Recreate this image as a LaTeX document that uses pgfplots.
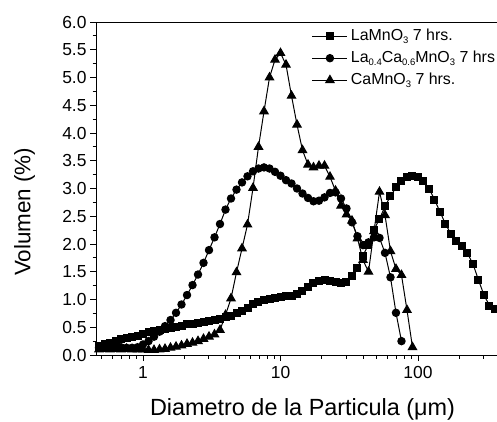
\documentclass[border=0pt]{standalone}
\usepackage{fontspec}
\setmainfont{Liberation Sans}
\usepackage{pgfplots}
\usepackage{pgfplotstable}
\pgfplotsset{compat=1.18}
\newcommand\sub[1]{\raisebox{-0.45ex}{\fontsize{9.5}{9.5}\selectfont #1}}

\pgfplotstableread{
d v
0.4786 0.17
0.5248 0.20
0.5754 0.22
0.6310 0.25
0.6918 0.28
0.7586 0.30
0.8318 0.33
0.9120 0.35
1.0000 0.38
1.0965 0.41
1.2023 0.43
1.3183 0.45
1.4454 0.47
1.5849 0.49
1.7378 0.51
1.9055 0.53
2.0893 0.55
2.2909 0.56
2.5119 0.58
2.7542 0.59
3.0200 0.61
3.3113 0.63
3.6308 0.65
3.9811 0.68
4.3652 0.71
4.7863 0.75
5.2481 0.79
5.7544 0.85
6.3096 0.91
6.9183 0.95
7.5858 0.99
8.3176 1.01
9.1201 1.03
10.000 1.05
10.965 1.06
12.023 1.07
13.183 1.10
14.454 1.15
15.849 1.23
17.378 1.29
19.055 1.34
20.893 1.35
22.909 1.34
25.119 1.31
27.542 1.29
30.200 1.32
33.113 1.43
36.308 1.57
39.811 1.79
43.652 1.99
47.863 2.26
52.481 2.45
57.544 2.68
63.096 2.86
69.183 3.02
75.858 3.14
83.176 3.20
91.201 3.23
100.00 3.20
109.65 3.13
120.23 3.00
131.83 2.80
144.54 2.58
158.49 2.36
173.78 2.18
190.55 2.06
208.93 1.96
229.09 1.83
251.19 1.64
275.42 1.35
301.99 1.08
331.13 0.89
363.08 0.82
}\lamno

\pgfplotstableread{
d v
0.4786 0.13
0.5248 0.13
0.5754 0.14
0.6310 0.13
0.6918 0.14
0.7586 0.13
0.8318 0.13
0.9120 0.14
1.0000 0.19
1.0965 0.25
1.2023 0.33
1.3183 0.42
1.4454 0.52
1.5849 0.63
1.7378 0.76
1.9055 0.91
2.0893 1.08
2.2909 1.26
2.5119 1.45
2.7542 1.66
3.0200 1.89
3.3113 2.12
3.6308 2.36
3.9811 2.62
4.3652 2.82
4.7863 2.98
5.2481 3.11
5.7544 3.22
6.3096 3.31
6.9183 3.36
7.5858 3.38
8.3176 3.36
9.1201 3.30
10.000 3.23
10.965 3.15
12.023 3.09
13.183 3.00
14.454 2.91
15.849 2.83
17.378 2.77
19.055 2.78
20.893 2.84
22.909 2.92
25.119 2.93
27.542 2.82
30.200 2.64
33.113 2.39
36.308 2.14
39.811 1.98
43.652 2.03
47.863 2.12
52.481 2.11
57.544 1.84
63.096 1.40
69.183 0.76
75.858 0.25
}\lacamno

\pgfplotstableread{
d v
0.4786 0.10
0.5248 0.11
0.5754 0.10
0.6310 0.11
0.6918 0.10
0.7586 0.11
0.8318 0.10
0.9120 0.10
1.0000 0.10
1.0965 0.09
1.2023 0.09
1.3183 0.10
1.4454 0.11
1.5849 0.13
1.7378 0.15
1.9055 0.17
2.0893 0.20
2.2909 0.22
2.5119 0.25
2.7542 0.29
3.0200 0.33
3.3113 0.37
3.6308 0.45
3.9811 0.72
4.3652 1.02
4.7863 1.49
5.2481 1.92
5.7544 2.35
6.3096 3.01
6.9183 3.75
7.5858 4.39
8.3176 5.00
9.1201 5.32
10.000 5.44
10.965 5.23
12.023 4.67
13.183 4.15
14.454 3.69
15.849 3.43
17.378 3.38
19.055 3.41
20.893 3.41
22.909 3.21
25.119 2.96
27.542 2.69
30.200 2.53
33.113 2.42
36.308 2.10
39.811 1.71
43.652 1.50
47.863 2.23
52.481 2.94
57.544 2.52
63.096 1.87
69.183 1.55
75.858 1.44
83.176 0.81
91.201 0.14
}\camno

\begin{document}
\begin{tikzpicture}
\begin{axis}[
  at={(0,0)}, anchor=south west,
  scale only axis, width=401bp, height=333bp,
  xmode=log, xmin=0.455, xmax=375.6, ymin=0, ymax=6,
  axis y line*=left,
  axis line style={line width=0.9bp, black},
  tick align=outside,
  xtick pos=lower, ytick pos=left,
  xtick={1,10,100}, xticklabels={1,10,100},
  minor xtick={0.5,0.6,0.7,0.8,0.9,2,3,4,5,6,7,8,9,20,30,40,50,60,70,80,90,200,300},
  ytick={0,0.5,...,6}, minor y tick num=1,
  yticklabel style={/pgf/number format/.cd, fixed, fixed zerofill, precision=1},
  /pgf/number format/assume math mode=true,
  major tick length=6bp, minor tick length=3.5bp,
  every tick/.style={black, line width=0.9bp},
  tick label style={font=\fontsize{17.5}{17.5}\selectfont},
  xticklabel style={yshift=-2bp},
  xlabel={Diametro de la Particula (μm)},
  ylabel={Volumen (\%)},
  xlabel style={at={(rel axis cs:0.515,-0.183)}, anchor=base, font=\fontsize{23.5}{23.5}\selectfont},
  ylabel style={at={(rel axis cs:-0.178,0.43)}, anchor=center, font=\fontsize{22.5}{22.5}\selectfont},
  legend style={at={(rel axis cs:0.538,0.985)}, anchor=north west, draw=none, fill=none,
    font=\fontsize{16}{16}\selectfont, row sep=4bp, column sep=2bp, inner sep=0pt,
    nodes={inner sep=1bp, text height=12bp, text depth=4bp}},
  legend cell align=left,
  legend image code/.code={\draw[mark repeat=2,mark phase=2,#1] plot coordinates {(0bp,0bp) (17.5bp,0bp) (35bp,0bp)};},
  clip=false,
]
\addplot[black, line width=1bp, mark=square*, mark size=3.5bp, mark options={solid, fill=black}] table[x=d, y=v] {\lamno};
\addlegendentry{LaMnO\sub{3} 7 hrs.}
\addplot[black, line width=1bp, mark=*, mark size=3.7bp, mark options={solid, fill=black}] table[x=d, y=v] {\lacamno};
\addlegendentry{La\sub{0.4}Ca\sub{0.6}MnO\sub{3} 7 hrs}
\addplot[black, line width=1bp, mark=triangle*, mark size=4.8bp, mark options={solid, fill=black}] table[x=d, y=v] {\camno};
\addlegendentry{CaMnO\sub{3} 7 hrs.}
\end{axis}
\pgfresetboundingbox
\path[use as bounding box] (-96bp,-67bp) rectangle (401bp,355bp);
\end{tikzpicture}
\end{document}
